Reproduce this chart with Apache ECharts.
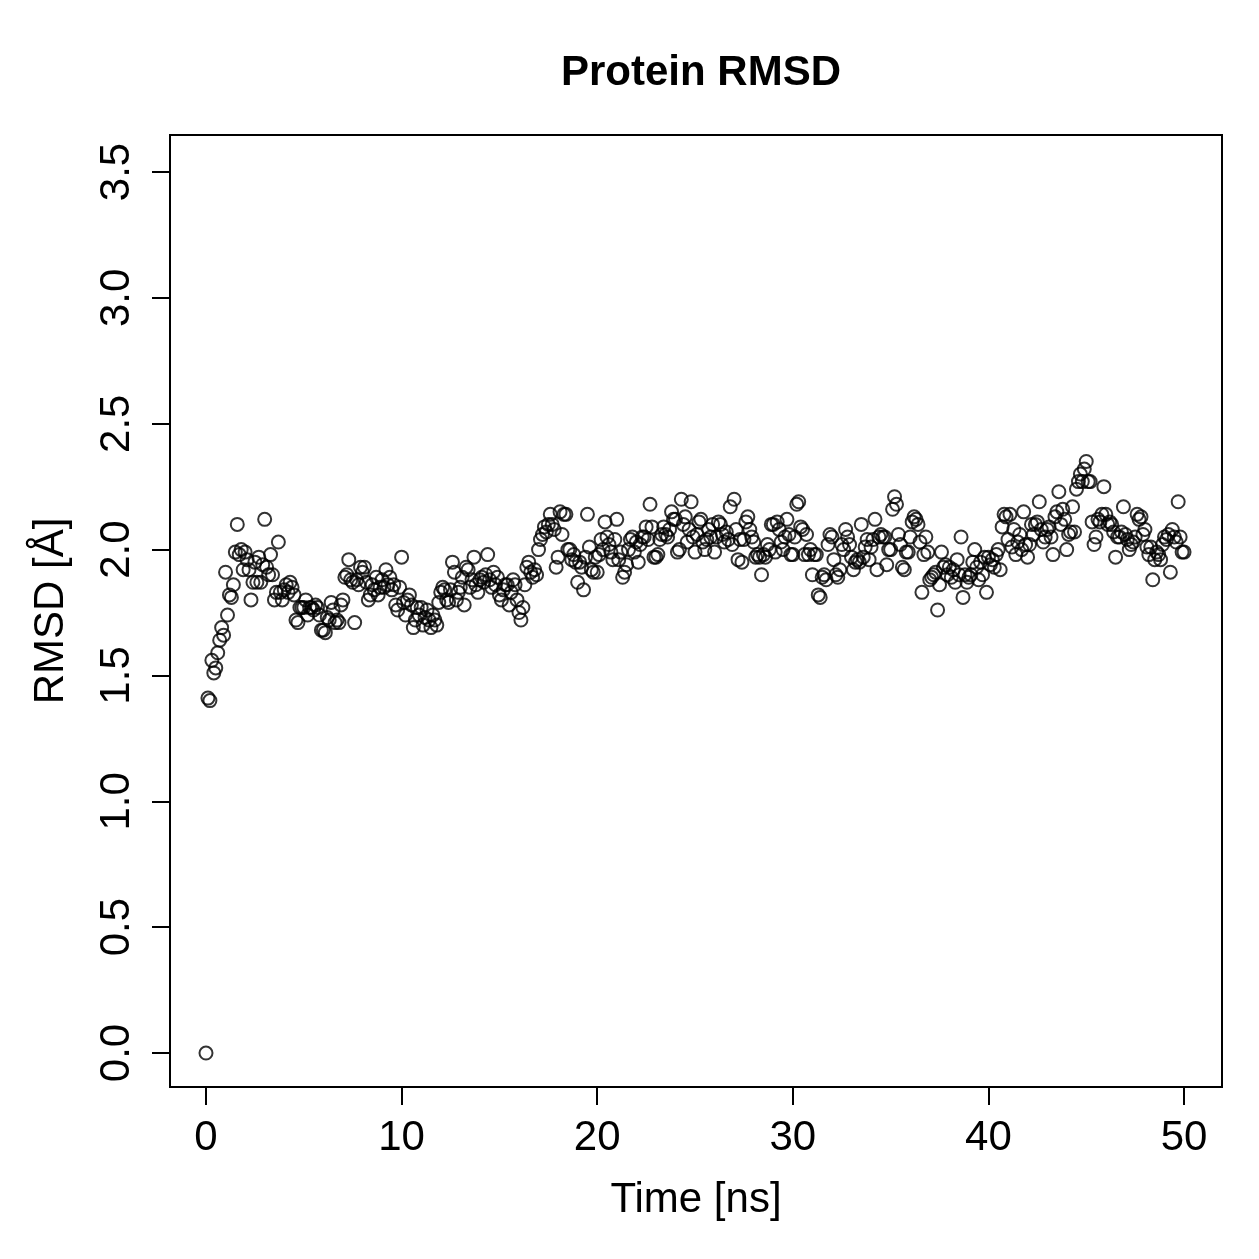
<!DOCTYPE html>
<html>
<head>
<meta charset="utf-8">
<title>Protein RMSD</title>
<script src="https://cdn.jsdelivr.net/npm/echarts@6/dist/echarts.min.js"></script>
<style>
  html, body { margin: 0; padding: 0; background: #fff; }
  #chart { width: 1259px; height: 1259px; }
</style>
</head>
<body>
<div id="chart"></div>
<script>
// sampling step of the trajectory (ns)
const timeStep = 0.1;
// RMSD values (Å), one per frame, 0 .. 50 ns
const rmsd = [
  0.00,1.41,1.40,1.56,1.51,1.53,1.59,1.64,1.69,1.66,
  1.91,1.74,1.82,1.81,1.86,1.99,2.10,1.98,2.00,1.92,
  1.99,1.96,1.92,1.80,1.87,1.95,1.87,1.97,1.87,1.94,
  2.12,1.93,1.90,1.98,1.90,1.80,1.83,2.03,1.83,1.80,
  1.84,1.86,1.83,1.87,1.85,1.82,1.72,1.71,1.77,1.77,
  1.77,1.80,1.74,1.77,1.77,1.76,1.78,1.77,1.74,1.68,
  1.68,1.67,1.73,1.72,1.79,1.76,1.71,1.72,1.71,1.78,
  1.80,1.89,1.90,1.96,1.88,1.87,1.71,1.88,1.86,1.93,
  1.91,1.93,1.87,1.80,1.82,1.86,1.84,1.89,1.82,1.85,
  1.88,1.85,1.92,1.86,1.89,1.84,1.86,1.78,1.76,1.85,
  1.97,1.79,1.74,1.80,1.82,1.78,1.69,1.72,1.77,1.74,
  1.77,1.70,1.73,1.76,1.72,1.69,1.74,1.72,1.70,1.79,
  1.83,1.85,1.84,1.80,1.79,1.84,1.95,1.91,1.80,1.83,
  1.85,1.89,1.78,1.93,1.92,1.85,1.88,1.97,1.86,1.83,
  1.88,1.89,1.87,1.90,1.98,1.88,1.85,1.91,1.86,1.89,
  1.82,1.80,1.84,1.86,1.86,1.78,1.83,1.88,1.86,1.80,
  1.75,1.72,1.77,1.86,1.93,1.95,1.91,1.89,1.92,1.90,
  2.00,2.04,2.06,2.09,2.07,2.10,2.14,2.10,2.08,1.93,
  1.97,2.15,2.06,2.14,2.14,2.00,2.00,1.96,1.98,1.95,
  1.87,1.95,1.93,1.84,1.97,2.14,2.01,1.92,1.91,1.97,
  1.91,1.98,2.04,2.00,2.11,2.05,2.02,1.99,1.96,2.04,
  2.12,1.96,1.99,1.89,1.91,1.94,2.00,2.04,2.05,1.99,
  2.03,1.95,2.02,2.05,2.05,2.09,2.04,2.18,2.09,1.97,
  1.97,1.98,2.04,2.06,2.09,2.06,2.05,2.08,2.15,2.12,
  2.12,1.99,2.00,2.20,2.10,2.13,2.03,2.08,2.19,2.05,
  1.99,2.06,2.11,2.12,2.03,2.00,2.04,2.08,2.05,2.10,
  1.99,2.05,2.11,2.10,2.06,2.03,2.07,2.04,2.17,2.02,
  2.20,2.08,1.96,2.04,1.95,2.04,2.11,2.13,2.08,2.05,
  2.03,1.97,1.98,1.97,1.90,1.98,1.97,2.02,2.00,2.10,
  2.10,1.99,2.11,2.08,2.03,2.00,2.05,2.12,2.06,1.98,
  1.98,2.05,2.18,2.19,2.09,2.08,1.98,2.06,1.98,2.00,
  1.90,1.98,1.98,1.82,1.81,1.89,1.90,1.88,2.02,2.06,
  2.05,1.96,1.90,1.89,1.92,2.02,2.00,2.08,2.05,2.02,
  1.97,1.92,1.95,1.96,1.95,2.10,1.97,2.01,2.04,1.96,
  2.01,2.04,2.12,1.92,2.05,2.06,2.05,2.05,1.94,2.00,
  2.00,2.16,2.21,2.18,2.06,2.02,1.93,1.92,1.99,1.99,
  2.05,2.11,2.13,2.12,2.10,2.03,1.83,1.98,2.05,1.99,
  1.88,1.89,1.90,1.91,1.76,1.86,1.99,1.93,1.94,1.90,
  1.93,1.89,1.92,1.87,1.96,1.90,2.05,1.81,1.90,1.87,
  1.89,1.90,1.95,2.00,1.93,1.88,1.95,1.90,1.97,1.83,
  1.97,1.94,1.96,1.93,1.98,2.00,1.92,2.09,2.14,2.13,
  2.04,2.14,2.01,2.08,1.98,2.03,2.06,2.00,2.15,2.02,
  1.97,2.02,2.10,2.06,2.10,2.11,2.19,2.08,2.03,2.05,
  2.08,2.09,2.05,1.98,2.13,2.15,2.23,2.10,2.16,2.12,
  2.00,2.06,2.07,2.17,2.07,2.24,2.27,2.30,2.27,2.32,
  2.35,2.27,2.27,2.11,2.02,2.05,2.12,2.11,2.14,2.25,
  2.14,2.10,2.11,2.10,2.07,1.97,2.05,2.05,2.07,2.17,
  2.06,2.04,2.00,2.02,2.03,2.05,2.14,2.12,2.13,2.06,
  2.08,2.01,1.98,2.01,1.88,1.96,1.99,1.98,1.96,2.02,
  2.05,2.04,2.06,1.91,2.08,2.05,2.03,2.19,2.05,1.99,
  1.99
];
// tick labels
const xTicks = [0, 10, 20, 30, 40, 50];
const yTicks = [0.0, 0.5, 1.0, 1.5, 2.0, 2.5, 3.0, 3.5];

const font = "Liberation Sans, Arial, Helvetica, sans-serif";

const chart = echarts.init(document.getElementById("chart"));

const points = rmsd.map((v, i) => [Number((i * timeStep).toFixed(1)), v]);

const option = {
  animation: false,
  backgroundColor: "#ffffff",
  title: {
    text: "Protein RMSD",
    left: 696,
    top: 47,
    textAlign: "center",
    textStyle: {
      fontFamily: font,
      fontWeight: "bold",
      fontSize: 42,
      color: "#000",
    },
  },
  grid: {
    left: 170,
    right: 37,
    top: 135,
    bottom: 172,
    show: true,
    borderColor: "#000",
    borderWidth: 2,
    backgroundColor: "transparent",
  },
  xAxis: {
    type: "value",
    min: -1.84,
    max: 51.94,
    name: "Time [ns]",
    nameLocation: "middle",
    nameGap: 92,
    nameTextStyle: { fontFamily: font, fontSize: 42, color: "#000" },
    axisLine: { show: false, onZero: false },
    splitLine: { show: false },
    axisTick: {
      show: true,
      inside: false,
      length: 18,
      customValues: xTicks,
      lineStyle: { color: "#000", width: 2 },
    },
    axisLabel: {
      customValues: xTicks,
      margin: 30,
      fontFamily: font,
      fontSize: 42,
      color: "#000",
    },
  },
  yAxis: {
    type: "value",
    min: -0.135,
    max: 3.647,
    name: "RMSD [Å]",
    nameLocation: "middle",
    nameGap: 98,
    nameRotate: 90,
    nameTextStyle: { fontFamily: font, fontSize: 42, color: "#000" },
    axisLine: { show: false, onZero: false },
    splitLine: { show: false },
    axisTick: {
      show: true,
      inside: false,
      length: 18,
      customValues: yTicks,
      lineStyle: { color: "#000", width: 2 },
    },
    axisLabel: {
      customValues: yTicks,
      rotate: 90,
      margin: 32,
      fontFamily: font,
      fontSize: 42,
      color: "#000",
      formatter: (v) => v.toFixed(1),
    },
  },
  series: [
    {
      type: "scatter",
      data: points,
      symbol: "circle",
      symbolSize: 13,
      itemStyle: {
        color: "transparent",
        borderColor: "#000",
        borderWidth: 2,
      },
      emphasis: { disabled: true },
    },
  ],
};

chart.setOption(option);
</script>
</body>
</html>
